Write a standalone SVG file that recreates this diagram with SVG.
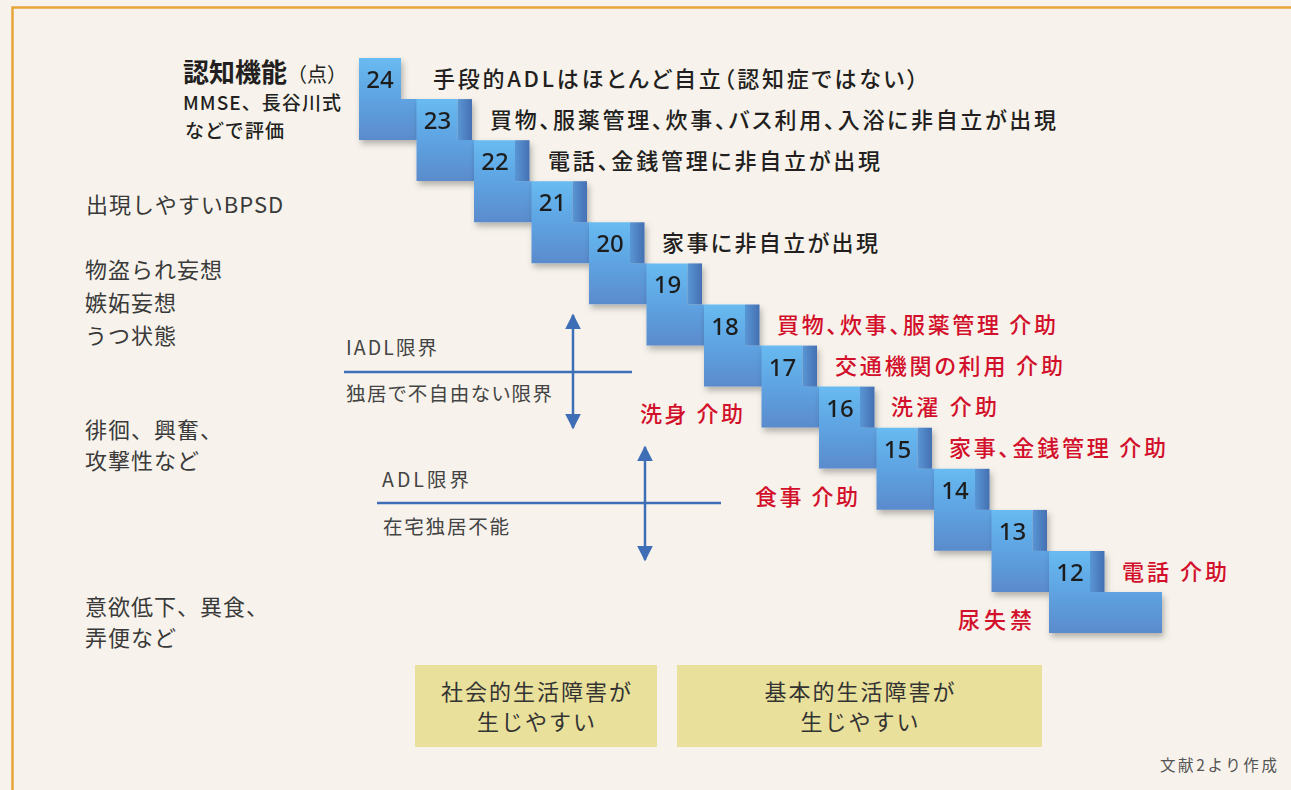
<svg xmlns="http://www.w3.org/2000/svg" width="1291" height="790" viewBox="0 0 1291 790">
<style>
.jp{font-family:"Noto Sans CJK JP","Noto Sans CJK SC",sans-serif}
.desc{font-family:"Noto Sans CJK JP",sans-serif;font-size:22px;font-weight:500;fill:#231f20;font-feature-settings:"palt" 1}
.red{font-family:"Noto Sans CJK JP",sans-serif;font-size:22px;font-weight:500;fill:#d3102b;font-feature-settings:"palt" 1}
.side{font-family:"Noto Sans CJK JP",sans-serif;font-size:22px;fill:#3a3a3a;letter-spacing:1px}
.lim{font-family:"Noto Sans CJK JP",sans-serif;font-size:19.5px;fill:#444;font-feature-settings:"palt" 1}
.num{font-family:"Noto Sans","DejaVu Sans",sans-serif;font-size:24px;font-weight:500;fill:#1f1f1f;text-anchor:middle}
.body{fill:url(#gBody)}
.riser{fill:url(#gRiser)}
.box{fill:#e9e09b}
.boxt{font-family:"Noto Sans CJK JP",sans-serif;font-size:22px;fill:#333;text-anchor:middle;letter-spacing:2px}
.ln{stroke:#3e6fb6;stroke-width:2.5;fill:none}
</style>
<defs>
<linearGradient id="gBody" x1="0" y1="0" x2="0" y2="1">
<stop offset="0" stop-color="#68bbf1"/>
<stop offset="0.5" stop-color="#5ea3e2"/>
<stop offset="1" stop-color="#5a8bcc"/>
</linearGradient>
<linearGradient id="gRiser" x1="0" y1="0" x2="1" y2="0">
<stop offset="0" stop-color="#5a96d5"/>
<stop offset="1" stop-color="#4470b2"/>
</linearGradient>
<filter id="sh" x="-20%" y="-20%" width="150%" height="150%">
<feDropShadow dx="2" dy="4" stdDeviation="3" flood-color="#000" flood-opacity="0.28"/>
</filter>
<marker id="ah" viewBox="0 0 10 10" refX="9" refY="5" markerUnits="userSpaceOnUse" markerWidth="16" markerHeight="16" orient="auto-start-reverse">
<path d="M0,0L10,5L0,10Z" fill="#3e6fb6"/>
</marker>
</defs>
<rect x="0" y="0" width="1291" height="790" fill="#f7f3ec"/>
<rect x="12.5" y="7.5" width="1320" height="820" fill="none" stroke="#e8a53a" stroke-width="2.5"/>

<g id="header">
<text class="jp" x="183" y="82" font-size="26" font-weight="700" fill="#231f20">認知機能<tspan font-size="20" font-weight="400">（点）</tspan></text>
<text class="jp" x="183" y="110" font-size="19" font-weight="500" fill="#231f20" textLength="158">MMSE、長谷川式</text>
<text class="jp" x="185" y="138" font-size="19" font-weight="500" fill="#231f20" textLength="99">などで評価</text>
</g>

<g id="bpsd">
<text class="side" x="86" y="213">出現しやすいBPSD</text>
<text class="side" x="85" y="278">物盗られ妄想</text>
<text class="side" x="85" y="311">嫉妬妄想</text>
<text class="side" x="85" y="344">うつ状態</text>
<text class="side" x="85" y="438">徘徊、興奮、</text>
<text class="side" x="85" y="469">攻撃性など</text>
<text class="side" x="85" y="615">意欲低下、異食、</text>
<text class="side" x="85" y="646">弄便など</text>
</g>

<g id="step24" transform="translate(359,58)" filter="url(#sh)">
<path class="body" d="M0,0H42V41H58V82H0Z"/>
<text class="num" x="21" y="30">24</text>
</g>
<text class="desc" x="433" y="87" textLength="485">手段的ADLはほとんど自立（認知症ではない）</text>
<g id="step23" transform="translate(416.5,99.1)" filter="url(#sh)">
<path class="body" d="M0,0H41V41H58V82H0Z"/><rect class="riser" x="41" y="0" width="14.5" height="41"/>
<text class="num" x="21" y="30">23</text>
</g>
<text class="desc" x="490" y="128" textLength="566">買物、服薬管理、炊事、バス利用、入浴に非自立が出現</text>
<g id="step22" transform="translate(474,140.2)" filter="url(#sh)">
<path class="body" d="M0,0H41V41H58V82H0Z"/><rect class="riser" x="41" y="0" width="14.5" height="41"/>
<text class="num" x="21" y="30">22</text>
</g>
<text class="desc" x="548" y="169" textLength="332">電話、金銭管理に非自立が出現</text>
<g id="step21" transform="translate(531.5,181.2)" filter="url(#sh)">
<path class="body" d="M0,0H41V41H58V82H0Z"/><rect class="riser" x="41" y="0" width="14.5" height="41"/>
<text class="num" x="21" y="30">21</text>
</g>
<g id="step20" transform="translate(589,222.3)" filter="url(#sh)">
<path class="body" d="M0,0H41V41H58V82H0Z"/><rect class="riser" x="41" y="0" width="14.5" height="41"/>
<text class="num" x="21" y="30">20</text>
</g>
<text class="desc" x="662" y="251" textLength="216">家事に非自立が出現</text>
<g id="step19" transform="translate(646.5,263.4)" filter="url(#sh)">
<path class="body" d="M0,0H41V41H58V82H0Z"/><rect class="riser" x="41" y="0" width="14.5" height="41"/>
<text class="num" x="21" y="30">19</text>
</g>
<g id="step18" transform="translate(704,304.5)" filter="url(#sh)">
<path class="body" d="M0,0H41V41H58V82H0Z"/><rect class="riser" x="41" y="0" width="14.5" height="41"/>
<text class="num" x="21" y="30">18</text>
</g>
<text class="red" x="777" y="333" textLength="279">買物、炊事、服薬管理 介助</text>
<g id="step17" transform="translate(761.5,345.6)" filter="url(#sh)">
<path class="body" d="M0,0H41V41H58V82H0Z"/><rect class="riser" x="41" y="0" width="14.5" height="41"/>
<text class="num" x="21" y="30">17</text>
</g>
<text class="red" x="835" y="374" textLength="228">交通機関の利用 介助</text>
<g id="step16" transform="translate(819,386.6)" filter="url(#sh)">
<path class="body" d="M0,0H41V41H58V82H0Z"/><rect class="riser" x="41" y="0" width="14.5" height="41"/>
<text class="num" x="21" y="30">16</text>
</g>
<text class="red" x="891" y="415" textLength="106">洗濯 介助</text>
<g id="step15" transform="translate(876.5,427.7)" filter="url(#sh)">
<path class="body" d="M0,0H41V41H58V82H0Z"/><rect class="riser" x="41" y="0" width="14.5" height="41"/>
<text class="num" x="21" y="30">15</text>
</g>
<text class="red" x="949" y="456" textLength="217">家事、金銭管理 介助</text>
<g id="step14" transform="translate(934,468.8)" filter="url(#sh)">
<path class="body" d="M0,0H41V41H58V82H0Z"/><rect class="riser" x="41" y="0" width="14.5" height="41"/>
<text class="num" x="21" y="30">14</text>
</g>
<g id="step13" transform="translate(991.5,509.9)" filter="url(#sh)">
<path class="body" d="M0,0H41V41H58V82H0Z"/><rect class="riser" x="41" y="0" width="14.5" height="41"/>
<text class="num" x="21" y="30">13</text>
</g>
<g id="step12" transform="translate(1049,551)" filter="url(#sh)">
<path class="body" d="M0,0H41V41H113V82H0Z"/><rect class="riser" x="41" y="0" width="14.5" height="41"/>
<text class="num" x="21" y="30">12</text>
</g>
<text class="red" x="1122" y="580" textLength="105">電話 介助</text>

<g id="left-labels">
<text class="red" x="640" y="422" textLength="103">洗身 介助</text>
<text class="red" x="755" y="505" textLength="103">食事 介助</text>
<text class="red" x="958" y="628" textLength="74">尿失禁</text>
</g>

<g id="connectors">
<line class="ln" x1="344" y1="372" x2="632" y2="372"/>
<line class="ln" x1="573" y1="315" x2="573" y2="428" marker-start="url(#ah)" marker-end="url(#ah)"/>
<line class="ln" x1="377" y1="503" x2="721" y2="503"/>
<line class="ln" x1="645" y1="447" x2="645" y2="560" marker-start="url(#ah)" marker-end="url(#ah)"/>
</g>
<g id="limits">
<text class="lim" x="346" y="355" textLength="91">IADL限界</text>
<text class="lim" x="346" y="401" textLength="206">独居で不自由ない限界</text>
<text class="lim" x="382" y="487" textLength="87">ADL限界</text>
<text class="lim" x="383" y="534" textLength="126">在宅独居不能</text>
</g>

<g id="box-social">
<rect class="box" x="415" y="665" width="242" height="82"/>
<text class="boxt" x="537" y="700">社会的生活障害が</text>
<text class="boxt" x="537" y="730">生じやすい</text>
</g>
<g id="box-basic">
<rect class="box" x="677" y="665" width="365" height="82"/>
<text class="boxt" x="860.5" y="700">基本的生活障害が</text>
<text class="boxt" x="860.5" y="730">生じやすい</text>
</g>
<text class="jp" x="1160" y="771" font-size="15.5" fill="#555" textLength="117">文献2より作成</text>
</svg>
